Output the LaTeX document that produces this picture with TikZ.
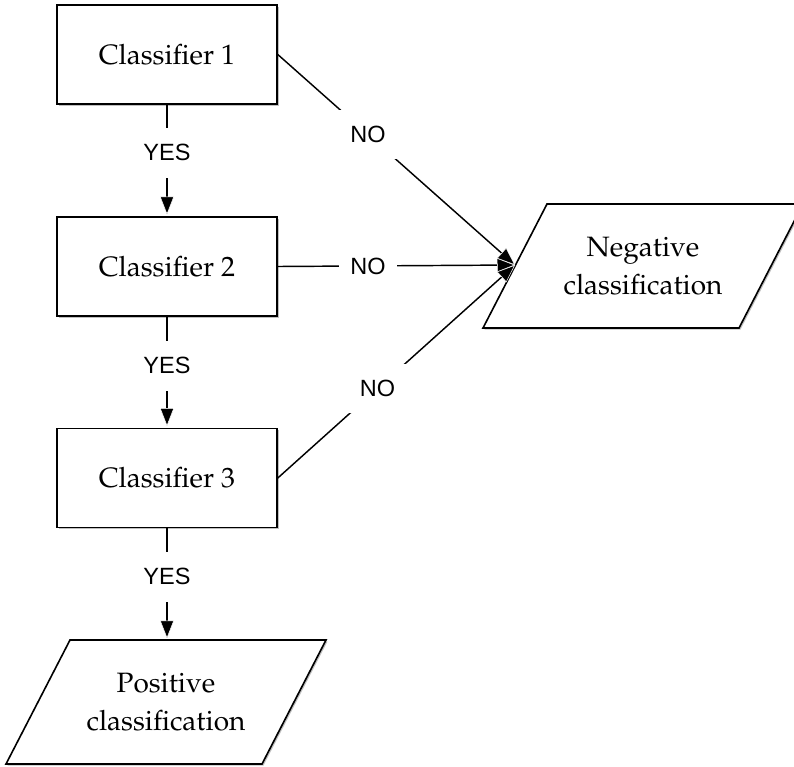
\documentclass[tikz,border=0pt]{standalone}
\usepackage[T1,TU]{fontenc}
\usepackage{fontspec}
\newfontfamily\labelfont{Liberation Sans}
\newcommand\palfont{\fontencoding{T1}\fontfamily{ppl}\selectfont}
\usetikzlibrary{arrows.meta,shadows}
\begin{document}
\begin{tikzpicture}[x=1pt,y=-1pt,
  shad/.style={drop shadow={shadow xshift=1.5pt, shadow yshift=-1.5pt, opacity=0.25, fill=black}},
  box/.style={draw, line width=1.6pt, minimum width=220pt, minimum height=99pt, fill=white, inner sep=0pt, shad,
    font=\palfont\fontsize{28}{38}\selectfont},
  parabox/.style={draw, line width=1.6pt, fill=white, line join=miter, shad},
  ptext/.style={align=center, inner sep=0pt, font=\palfont\fontsize{28}{38}\selectfont},
  conn/.style={line width=1.45pt},
  arr/.style={conn, -{Triangle[length=18pt,width=14pt,line width=0.5pt,color=white,fill=black]}},
  lab/.style={fill=white, inner xsep=11pt, inner ysep=16.6pt, font=\labelfont\fontsize{23.5}{27}\selectfont}
]
\useasboundingbox (0,0) rectangle (794,766);
% classifier boxes
\node[box] (c1) at (167,54.5) {Classifier 1};
\node[box] (c2) at (167,266.5) {Classifier 2};
\node[box] (c3) at (167,478) {Classifier 3};
% negative classification
\coordinate (negTL) at (547,204);
\coordinate (negTR) at (803,204);
\coordinate (negBR) at (739,328);
\coordinate (negBL) at (483,328);
\draw[parabox] (negTL) -- (negTR) -- (negBR) -- (negBL) -- cycle;
\node[ptext] (neg) at (643,266) {Negative\\classification};
\coordinate (negin) at (515,265);
% positive classification
\coordinate (posTL) at (70,640);
\coordinate (posTR) at (326,640);
\coordinate (posBR) at (262,764);
\coordinate (posBL) at (6,764);
\draw[parabox] (posTL) -- (posTR) -- (posBR) -- (posBL) -- cycle;
\node[ptext] (pos) at (166,702) {Positive\\classification};
\coordinate (posin) at (167,638.5);
% connectors
\draw[arr, shorten >=1.5pt] (c1.south) -- node[lab,pos=0.43]{YES} (c2.north);
\draw[arr, shorten >=1.5pt] (c2.south) -- node[lab,pos=0.44]{YES} (c3.north);
\draw[arr] (c3.south) -- node[lab,pos=0.44]{YES} (posin);
\draw[arr] (c1.east) -- node[lab,pos=0.38]{NO} (negin);
\draw[arr] (c2.east) -- node[lab,pos=0.38]{NO} (negin);
\draw[arr] (c3.east) -- node[lab,pos=0.42]{NO} (negin);
\end{tikzpicture}
\end{document}
